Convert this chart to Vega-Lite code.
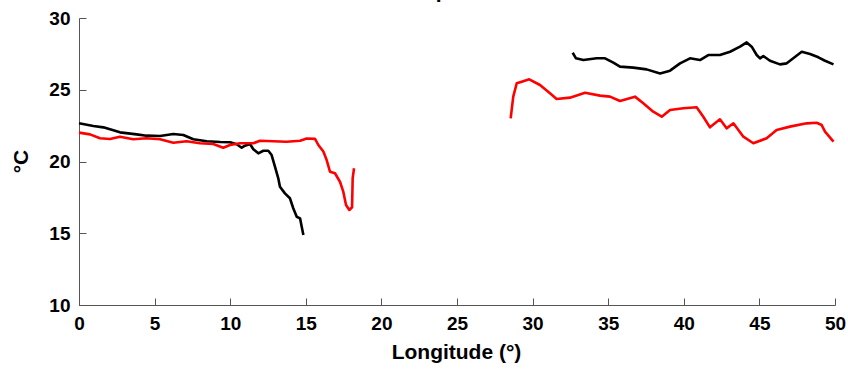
{
  "$schema": "https://vega.github.io/schema/vega-lite/v6.json",
  "width": 756,
  "height": 287,
  "autosize": {"type": "none"},
  "padding": {"left": 79, "top": 18, "right": 13, "bottom": 65},
  "background": "white",
  "config": {
    "view": {"stroke": null},
    "font": "Liberation Sans",
    "axis": {"grid": false}
  },
  "title": {
    "text": "Temperature",
    "font": "Liberation Sans",
    "fontSize": 21,
    "fontWeight": "bold",
    "color": "black",
    "baseline": "alphabetic",
    "anchor": "middle",
    "frame": "group",
    "offset": 0,
    "dy": 10
  },
  "data": {
    "values": [
      {"s":"black","g":"bL","x":0,"y":22.66},{"s":"black","g":"bL","x":0.95,"y":22.47},{"s":"black","g":"bL","x":1.61,"y":22.38},{"s":"black","g":"bL","x":2.71,"y":22.03},{"s":"black","g":"bL","x":3.81,"y":21.89},{"s":"black","g":"bL","x":4.47,"y":21.80},{"s":"black","g":"bL","x":5.36,"y":21.78},{"s":"black","g":"bL","x":6.24,"y":21.92},{"s":"black","g":"bL","x":6.90,"y":21.85},{"s":"black","g":"bL","x":7.56,"y":21.55},{"s":"black","g":"bL","x":8.45,"y":21.41},{"s":"black","g":"bL","x":9.33,"y":21.36},{"s":"black","g":"bL","x":9.99,"y":21.34},{"s":"black","g":"bL","x":10.43,"y":21.20},{"s":"black","g":"bL","x":10.76,"y":20.96},{"s":"black","g":"bL","x":10.98,"y":21.10},{"s":"black","g":"bL","x":11.31,"y":21.22},{"s":"black","g":"bL","x":11.53,"y":20.85},{"s":"black","g":"bL","x":11.86,"y":20.57},{"s":"black","g":"bL","x":12.19,"y":20.75},{"s":"black","g":"bL","x":12.52,"y":20.75},{"s":"black","g":"bL","x":12.74,"y":20.45},{"s":"black","g":"bL","x":12.96,"y":19.64},{"s":"black","g":"bL","x":13.18,"y":18.83},{"s":"black","g":"bL","x":13.29,"y":18.24},{"s":"black","g":"bL","x":13.62,"y":17.78},{"s":"black","g":"bL","x":13.95,"y":17.44},{"s":"black","g":"bL","x":14.17,"y":16.74},{"s":"black","g":"bL","x":14.40,"y":16.15},{"s":"black","g":"bL","x":14.62,"y":16.04},{"s":"black","g":"bL","x":14.73,"y":15.46},{"s":"black","g":"bL","x":14.84,"y":14.88},

      {"s":"red","g":"rL","x":0,"y":22.01},{"s":"red","g":"rL","x":0.73,"y":21.89},{"s":"red","g":"rL","x":1.39,"y":21.62},{"s":"red","g":"rL","x":2.05,"y":21.57},{"s":"red","g":"rL","x":2.71,"y":21.73},{"s":"red","g":"rL","x":3.59,"y":21.55},{"s":"red","g":"rL","x":4.47,"y":21.62},{"s":"red","g":"rL","x":5.36,"y":21.55},{"s":"red","g":"rL","x":6.24,"y":21.31},{"s":"red","g":"rL","x":7.12,"y":21.41},{"s":"red","g":"rL","x":8.00,"y":21.27},{"s":"red","g":"rL","x":8.88,"y":21.22},{"s":"red","g":"rL","x":9.54,"y":20.96},{"s":"red","g":"rL","x":9.99,"y":21.15},{"s":"red","g":"rL","x":10.65,"y":21.27},{"s":"red","g":"rL","x":11.53,"y":21.27},{"s":"red","g":"rL","x":11.97,"y":21.45},{"s":"red","g":"rL","x":12.85,"y":21.41},{"s":"red","g":"rL","x":13.73,"y":21.38},{"s":"red","g":"rL","x":14.62,"y":21.45},{"s":"red","g":"rL","x":15.06,"y":21.60},{"s":"red","g":"rL","x":15.61,"y":21.58},{"s":"red","g":"rL","x":15.83,"y":21.15},{"s":"red","g":"rL","x":16.16,"y":20.70},{"s":"red","g":"rL","x":16.38,"y":20.10},{"s":"red","g":"rL","x":16.60,"y":19.29},{"s":"red","g":"rL","x":16.93,"y":19.18},{"s":"red","g":"rL","x":17.26,"y":18.59},{"s":"red","g":"rL","x":17.48,"y":17.90},{"s":"red","g":"rL","x":17.66,"y":16.97},{"s":"red","g":"rL","x":17.88,"y":16.62},{"s":"red","g":"rL","x":18.06,"y":16.81},{"s":"red","g":"rL","x":18.10,"y":18.83},{"s":"red","g":"rL","x":18.19,"y":19.53},

      {"s":"black","g":"bR","x":32.65,"y":27.58},{"s":"black","g":"bR","x":32.87,"y":27.19},{"s":"black","g":"bR","x":33.36,"y":27.07},{"s":"black","g":"bR","x":34.24,"y":27.19},{"s":"black","g":"bR","x":34.79,"y":27.19},{"s":"black","g":"bR","x":35.34,"y":26.89},{"s":"black","g":"bR","x":35.78,"y":26.61},{"s":"black","g":"bR","x":36.66,"y":26.54},{"s":"black","g":"bR","x":37.54,"y":26.42},{"s":"black","g":"bR","x":38.43,"y":26.14},{"s":"black","g":"bR","x":39.09,"y":26.33},{"s":"black","g":"bR","x":39.75,"y":26.84},{"s":"black","g":"bR","x":40.41,"y":27.19},{"s":"black","g":"bR","x":41.07,"y":27.07},{"s":"black","g":"bR","x":41.62,"y":27.42},{"s":"black","g":"bR","x":42.39,"y":27.42},{"s":"black","g":"bR","x":43.06,"y":27.65},{"s":"black","g":"bR","x":43.72,"y":28.00},{"s":"black","g":"bR","x":44.16,"y":28.30},{"s":"black","g":"bR","x":44.49,"y":28.00},{"s":"black","g":"bR","x":44.82,"y":27.42},{"s":"black","g":"bR","x":45.04,"y":27.19},{"s":"black","g":"bR","x":45.26,"y":27.35},{"s":"black","g":"bR","x":45.70,"y":27.02},{"s":"black","g":"bR","x":46.36,"y":26.77},{"s":"black","g":"bR","x":46.81,"y":26.84},{"s":"black","g":"bR","x":47.24,"y":27.19},{"s":"black","g":"bR","x":47.80,"y":27.65},{"s":"black","g":"bR","x":48.35,"y":27.49},{"s":"black","g":"bR","x":48.90,"y":27.26},{"s":"black","g":"bR","x":49.34,"y":27.02},{"s":"black","g":"bR","x":49.90,"y":26.77},

      {"s":"red","g":"rR","x":28.55,"y":23.01},{"s":"red","g":"rR","x":28.72,"y":24.52},{"s":"red","g":"rR","x":28.95,"y":25.45},{"s":"red","g":"rR","x":29.28,"y":25.56},{"s":"red","g":"rR","x":29.78,"y":25.73},{"s":"red","g":"rR","x":30.49,"y":25.33},{"s":"red","g":"rR","x":31.15,"y":24.75},{"s":"red","g":"rR","x":31.59,"y":24.36},{"s":"red","g":"rR","x":32.47,"y":24.45},{"s":"red","g":"rR","x":33.47,"y":24.79},{"s":"red","g":"rR","x":34.46,"y":24.59},{"s":"red","g":"rR","x":35.12,"y":24.52},{"s":"red","g":"rR","x":35.78,"y":24.22},{"s":"red","g":"rR","x":36.77,"y":24.52},{"s":"red","g":"rR","x":37.32,"y":24.06},{"s":"red","g":"rR","x":37.98,"y":23.47},{"s":"red","g":"rR","x":38.54,"y":23.12},{"s":"red","g":"rR","x":39.09,"y":23.59},{"s":"red","g":"rR","x":39.97,"y":23.71},{"s":"red","g":"rR","x":40.85,"y":23.78},{"s":"red","g":"rR","x":41.29,"y":23.12},{"s":"red","g":"rR","x":41.73,"y":22.38},{"s":"red","g":"rR","x":42.39,"y":22.94},{"s":"red","g":"rR","x":42.83,"y":22.31},{"s":"red","g":"rR","x":43.28,"y":22.66},{"s":"red","g":"rR","x":43.94,"y":21.73},{"s":"red","g":"rR","x":44.60,"y":21.27},{"s":"red","g":"rR","x":45.48,"y":21.62},{"s":"red","g":"rR","x":46.14,"y":22.20},{"s":"red","g":"rR","x":47.02,"y":22.43},{"s":"red","g":"rR","x":48.13,"y":22.66},{"s":"red","g":"rR","x":48.79,"y":22.70},{"s":"red","g":"rR","x":49.12,"y":22.54},{"s":"red","g":"rR","x":49.34,"y":22.08},{"s":"red","g":"rR","x":49.90,"y":21.38}
    ]
  },
  "mark": {"type": "line", "strokeWidth": 2.6, "strokeJoin": "round", "strokeCap": "butt"},
  "encoding": {
    "x": {
      "field": "x", "type": "quantitative",
      "scale": {"domain": [0, 50], "nice": false, "zero": false},
      "axis": {
        "values": [0,5,10,15,20,25,30,35,40,45,50],
        "title": "Longitude (°)",
        "titleFont": "Liberation Sans", "titleFontSize": 21, "titleFontWeight": "bold", "titleColor": "black",
        "titleBaseline": "alphabetic", "titleX": 377, "titleY": 53,
        "labelFont": "Liberation Sans", "labelFontSize": 19, "labelFontWeight": "bold", "labelColor": "black",
        "labelPadding": 16, "labelBaseline": "top", "labelFlush": false, "labelOverlap": false,
        "tickSize": -7, "tickColor": "#555", "tickWidth": 1,
        "domainColor": "#555", "domainWidth": 1
      }
    },
    "y": {
      "field": "y", "type": "quantitative",
      "scale": {"domain": [10, 30], "nice": false, "zero": false},
      "axis": {
        "values": [10,15,20,25,30],
        "title": "°C",
        "titleFont": "Liberation Sans", "titleFontSize": 21, "titleFontWeight": "bold", "titleColor": "black",
        "titleAngle": -90, "titleBaseline": "alphabetic", "titleAlign": "center", "titleX": -52, "titleY": 143,
        "labelFont": "Liberation Sans", "labelFontSize": 19, "labelFontWeight": "bold", "labelColor": "black",
        "labelPadding": 16, "labelFlush": false, "labelOverlap": false,
        "tickSize": -7, "tickColor": "#555", "tickWidth": 1,
        "domainColor": "#555", "domainWidth": 1
      }
    },
    "color": {
      "field": "s", "type": "nominal",
      "scale": {"domain": ["black", "red"], "range": ["#000000", "#ff0000"]},
      "legend": null
    },
    "detail": {"field": "g", "type": "nominal"}
  }
}
